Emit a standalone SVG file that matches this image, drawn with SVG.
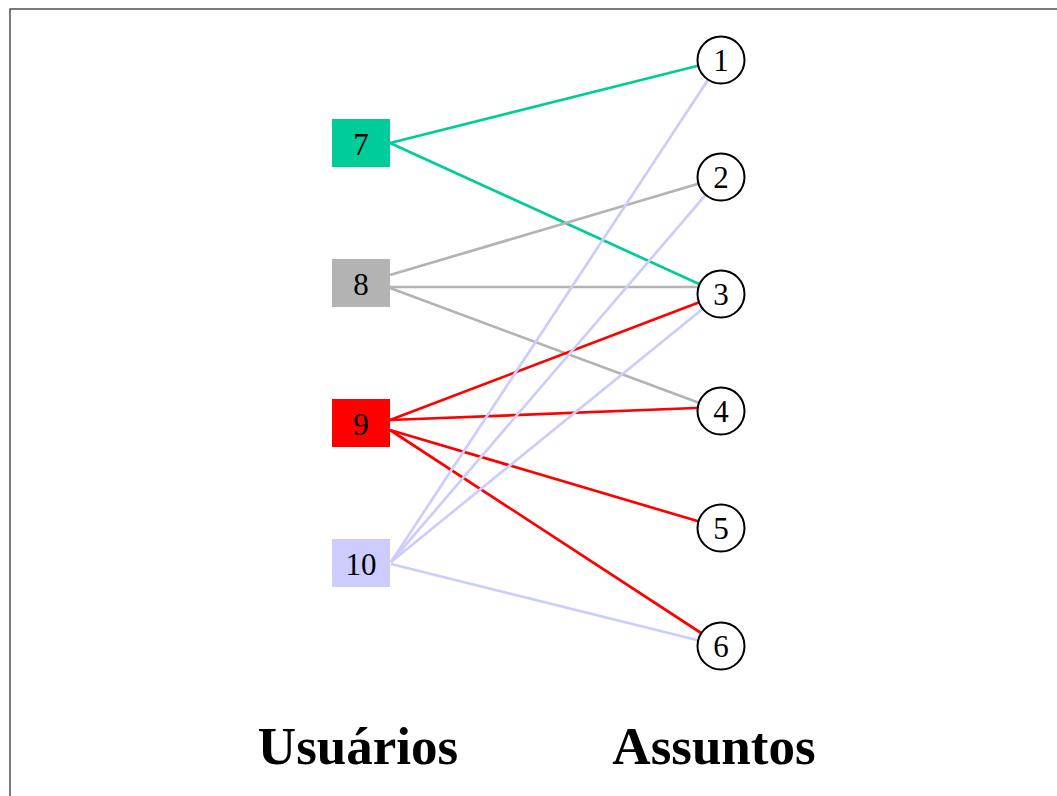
<svg xmlns="http://www.w3.org/2000/svg" width="1057" height="796" viewBox="0 0 1057 796">
<style>
.lbl{font-family:"Liberation Serif","Times New Roman",serif;font-size:31px;text-anchor:middle;fill:#000}
.title{font-family:"Liberation Serif","Times New Roman",serif;font-size:53px;font-weight:bold;text-anchor:middle;fill:#000}
.circ{fill:#fff;stroke:#000;stroke-width:2}
.e{stroke-width:2.7;fill:none}
.g{stroke:#00cc99}.s{stroke:#b3b3b3}.r{stroke:#ff0000}.l{stroke:#ccccff}
</style>
<rect x="0" y="0" width="1057" height="796" fill="#fff"/>
<rect x="10" y="9" width="1200" height="900" fill="none" stroke="#333" stroke-width="1.3"/>
<g id="connectors">
<line class="e g" x1="390" y1="143" x2="721" y2="60"/>
<line class="e g" x1="390" y1="143" x2="721" y2="294"/>
<line class="e s" x1="390" y1="275" x2="721" y2="177"/>
<line class="e s" x1="390" y1="287" x2="721" y2="287"/>
<line class="e s" x1="390" y1="288" x2="721" y2="411"/>
<line class="e r" x1="390" y1="420" x2="721" y2="294"/>
<line class="e r" x1="390" y1="420" x2="721" y2="407"/>
<line class="e r" x1="390" y1="430" x2="721" y2="528"/>
<line class="e r" x1="390" y1="430" x2="721" y2="646"/>
<line class="e l" x1="391" y1="562" x2="721" y2="60"/>
<line class="e l" x1="391" y1="562" x2="721" y2="177"/>
<line class="e l" x1="391" y1="562" x2="721" y2="294"/>
<line class="e l" x1="391" y1="564" x2="721" y2="646"/>
</g>
<g id="n7"><rect x="332" y="119" width="58" height="48" fill="#00cc99"/><text class="lbl" x="361" y="155">7</text></g>
<g id="n8"><rect x="332" y="259" width="58" height="48" fill="#b3b3b3"/><text class="lbl" x="361" y="295">8</text></g>
<g id="n9"><rect x="332" y="399" width="58" height="48" fill="#ff0000"/><text class="lbl" x="361" y="435">9</text></g>
<g id="n10"><rect x="332" y="539" width="58" height="48" fill="#ccccff"/><text class="lbl" x="361" y="575">10</text></g>
<g id="n1"><circle class="circ" cx="721" cy="60" r="23.5"/><text class="lbl" x="721" y="71">1</text></g>
<g id="n2"><circle class="circ" cx="721" cy="177" r="23.5"/><text class="lbl" x="721" y="188">2</text></g>
<g id="n3"><circle class="circ" cx="721" cy="294" r="23.5"/><text class="lbl" x="721" y="305">3</text></g>
<g id="n4"><circle class="circ" cx="721" cy="411" r="23.5"/><text class="lbl" x="721" y="422">4</text></g>
<g id="n5"><circle class="circ" cx="721" cy="528" r="23.5"/><text class="lbl" x="721" y="539">5</text></g>
<g id="n6"><circle class="circ" cx="721" cy="646" r="23.5"/><text class="lbl" x="721" y="657">6</text></g>
<text class="title" x="358" y="764">Usuários</text>
<text class="title" x="714" y="764">Assuntos</text>
</svg>
